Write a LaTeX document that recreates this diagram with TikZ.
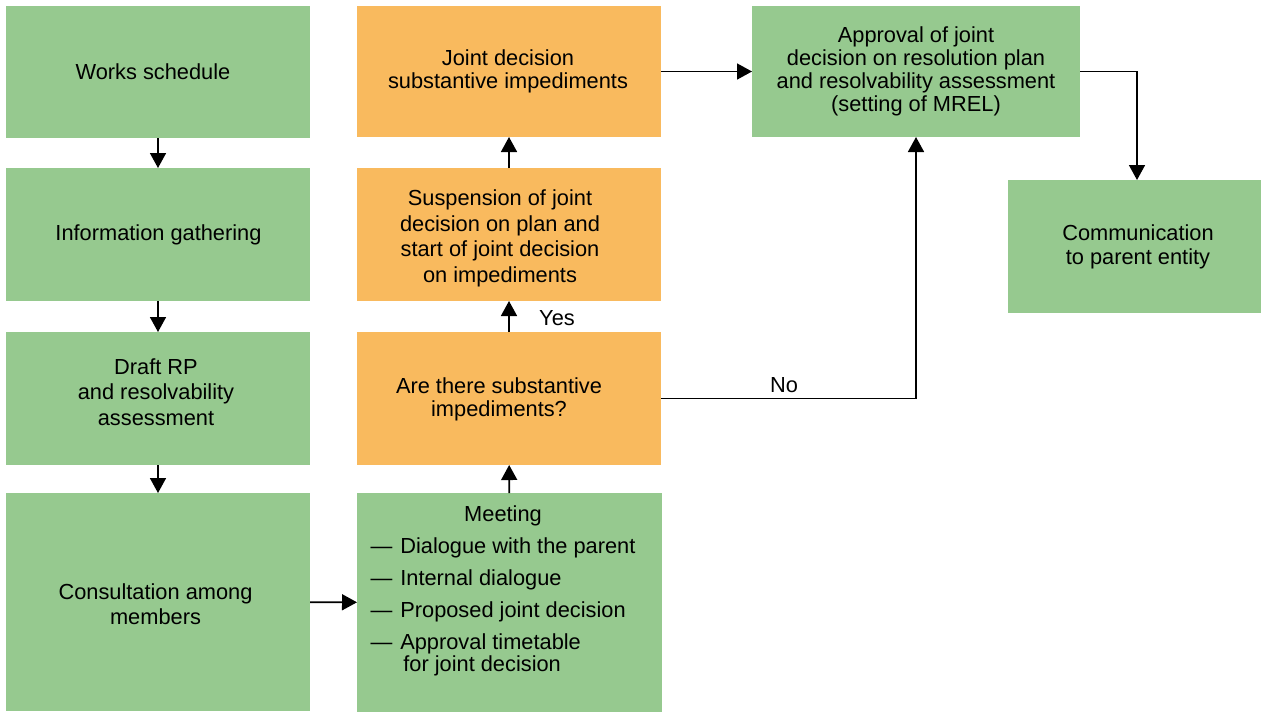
\documentclass[tikz,border=0pt]{standalone}
\usepackage{fontspec}
\setmainfont{Liberation Sans}
\usetikzlibrary{arrows.meta}
\definecolor{boxgreen}{RGB}{150,201,143}
\definecolor{boxorange}{RGB}{249,186,94}

\begin{document}
\begin{tikzpicture}[x=1pt,y=-1pt,
  txt/.style={font=\fontsize{21.8}{24}\selectfont, align=center, inner sep=0pt},
  box/.style={inner sep=0pt, outer sep=0pt, minimum width=304pt, minimum height=133pt},
  gbox/.style={box, fill=boxgreen},
  obox/.style={box, fill=boxorange},
  link/.style={line width=1.6pt, -{Triangle[width=16pt,length=15pt]}}]
\useasboundingbox (0,0) rectangle (1261,713);

% boxes: left column
\node[gbox, minimum height=132pt] (works)   at (158,72)    {};
\node[gbox] (info)    at (158,234.5) {};
\node[gbox] (draft)   at (158,398.5) {};
\node[gbox, minimum height=218pt] (consult) at (158,602) {};
% boxes: middle column
\node[obox, minimum height=131pt] (joint) at (509,71.5) {};
\node[obox] (susp) at (509,234.5) {};
\node[obox] (are)  at (509,398.5) {};
\node[gbox, minimum width=305pt, minimum height=219pt] (meet) at (509.5,602.5) {};
% boxes: right side
\node[gbox, minimum width=328pt, minimum height=131pt] (approve) at (916,71.5) {};
\node[gbox, minimum width=253pt] (comm) at (1134.5,246.5) {};

% box texts
\node[txt] (workstext) at (153,72) {Works schedule};
\node[txt] (infotext) at (158.5,235) {Information gathering};
\node[txt, font=\fontsize{21.8}{25.5}\selectfont] (drafttext) at (156,392)
  {Draft RP\\and resolvability\\assessment};
\node[txt, font=\fontsize{21.8}{25}\selectfont] (consulttext) at (155.5,604.5)
  {Consultation among\\members};
\node[txt, font=\fontsize{21.8}{23}\selectfont] (jointtext) at (508,71.5)
  {Joint decision\\substantive impediments};
\node[txt, font=\fontsize{21.8}{25.7}\selectfont] (susptext) at (500,238.5)
  {Suspension of joint\\decision on plan and\\start of joint decision\\on impediments};
\node[txt, font=\fontsize{21.8}{23}\selectfont] (aretext) at (499,399.5)
  {Are there substantive\\impediments?};
\node[txt, font=\fontsize{21.8}{22.5}\selectfont] (meettext) at (503,592) {%
  \begin{tabular}{@{}l@{\hspace{8pt}}l@{}}
  \multicolumn{2}{c}{Meeting}\\[9.5pt]
  — & Dialogue with the parent\\[9.5pt]
  — & Internal dialogue\\[9.5pt]
  — & Proposed joint decision\\[9.5pt]
  — & Approval timetable\\
    & \hspace{3pt}for joint decision
  \end{tabular}};
\node[txt, font=\fontsize{21.8}{23}\selectfont] (approvetext) at (916,71.5)
  {Approval of joint\\decision on resolution plan\\and resolvability assessment\\(setting of MREL)};
\node[txt] (commtext) at (1138,247) {Communication\\to parent entity};

% connectors
\draw[link] (works) -- (info);
\draw[link] (info) -- (draft);
\draw[link] (draft) -- (consult);
\draw[link] (consult) -- (meet);
\draw[link] (meet) -- (are);
\draw[link] (are) -- (susp);
\draw[link] (susp) -- (joint);
\draw[link] (joint) -- (approve);
\draw[link] (approve.east) -| ([xshift=2.5pt]comm.north);
\draw[link] (are.east) -| (approve.south);
\node[txt] (yes) at (557,318) {Yes};
\node[txt] (no) at (784,385) {No};
\end{tikzpicture}
\end{document}
